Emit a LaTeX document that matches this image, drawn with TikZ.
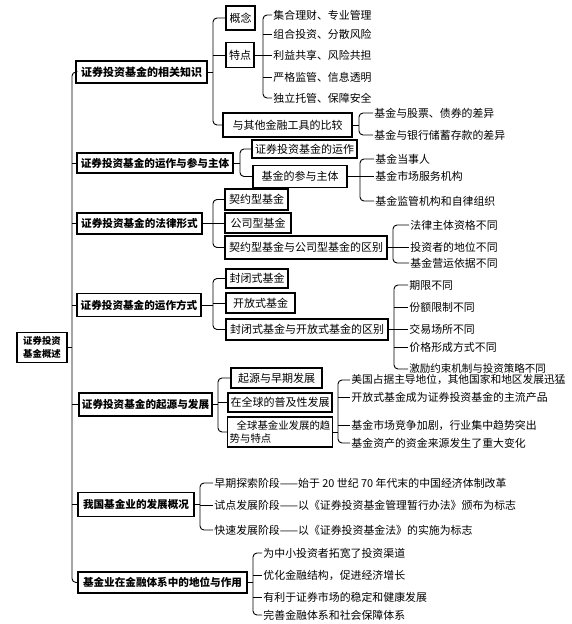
\documentclass[tikz,border=0pt]{standalone}
\usepackage{fontspec}
\setmainfont{Noto Sans CJK SC}
\usetikzlibrary{calc}
\begin{document}
\begin{tikzpicture}[x=1pt,y=-1pt,
  line width=0.9pt,
  bx/.style 2 args={draw, line width=1.1pt, inner sep=0pt, minimum width=#1, minimum height=#2, font=\fontsize{11}{13}\selectfont},
  mainbx/.style 2 args={bx={#1}{#2}, font=\bfseries\fontsize{10.6}{13}\selectfont},
  leaf/.style={anchor=west, inner xsep=1pt, inner ysep=0pt, font=\fontsize{10.9}{13}\selectfont},
  br/.style={rounded corners=4pt}
]
\useasboundingbox (0,0) rectangle (571,624);

% root
\node[bx={50pt}{30pt}, font=\bfseries\fontsize{9.4}{13.5}\selectfont, align=center] (root) at (42,347.5) {证券投资\\基金概述};

% level 1
\node[mainbx={131pt}{22pt}, font=\bfseries\fontsize{11}{13}\selectfont] (a1) at (141.5,72) {证券投资基金的相关知识};
\node[mainbx={156pt}{20pt}] (a2) at (155,163) {证券投资基金的运作与参与主体};
\node[mainbx={125pt}{21pt}] (a3) at (139.5,223.5) {证券投资基金的法律形式};
\node[mainbx={124pt}{23pt}] (a4) at (139,305) {证券投资基金的运作方式};
\node[mainbx={133pt}{23pt}] (a5) at (145.5,404.5) {证券投资基金的起源与发展};
\node[mainbx={116pt}{24pt}] (a6) at (136,504.5) {我国基金业的发展概况};
\node[mainbx={169pt}{21pt}] (a7) at (162.5,582.5) {基金业在金融体系中的地位与作用};

% level 2 boxes
\node[bx={29pt}{24pt}] (b1) at (240.5,18) {概念};
\node[bx={28pt}{25pt}] (b2) at (240,55) {特点};
\node[bx={129pt}{24pt}] (b3) at (287.5,125) {与其他金融工具的比较};
\node[bx={105pt}{18pt}] (c1) at (304.5,149) {证券投资基金的运作};
\node[bx={94pt}{22pt}] (c2) at (300,176.5) {基金的参与主体};
\node[bx={63pt}{21pt}] (d1) at (256.5,199.5) {契约型基金};
\node[bx={66pt}{20pt}] (d2) at (258,223) {公司型基金};
\node[bx={162pt}{23pt}] (d3) at (306,247.5) {契约型基金与公司型基金的区别};
\node[bx={62pt}{19pt}] (e1) at (257,278.5) {封闭式基金};
\node[bx={69pt}{20pt}] (e2) at (260.5,303) {开放式基金};
\node[bx={162pt}{21pt}] (e3) at (307,329.5) {封闭式基金与开放式基金的区别};
\node[bx={91pt}{20pt}] (f1) at (276.5,378) {起源与早期发展};
\node[bx={104pt}{19pt}] (f2) at (280,402.5) {在全球的普及性发展};
\node[bx={104pt}{30pt}, align=left, inner xsep=2pt, font=\fontsize{10.4}{12.5}\selectfont] (f3) at (280,432) {\hspace{7pt}全球基金业发展的趋\\势与特点};

% leaves
\node[leaf] (g1) at (272,15) {集合理财、专业管理};
\node[leaf] (g2) at (272,34) {组合投资、分散风险};
\node[leaf] (g3) at (272,55) {利益共享、风险共担};
\node[leaf] (g4) at (272,77) {严格监管、信息透明};
\node[leaf] (g5) at (272,98) {独立托管、保障安全};

\node[leaf] (h1) at (373,113) {基金与股票、债券的差异};
\node[leaf] (h2) at (373,135) {基金与银行储蓄存款的差异};

\node[leaf] (i1) at (374,159) {基金当事人};
\node[leaf] (i2) at (374,176.5) {基金市场服务机构};
\node[leaf] (i3) at (374,201) {基金监管机构和自律组织};

\node[leaf] (j1) at (409,225) {法律主体资格不同};
\node[leaf] (j2) at (409,247.5) {投资者的地位不同};
\node[leaf] (j3) at (409,263) {基金营运依据不同};

\node[leaf] (l1) at (408,285) {期限不同};
\node[leaf] (l2) at (408,307) {份额限制不同};
\node[leaf] (l3) at (408,329.5) {交易场所不同};
\node[leaf] (l4) at (408,347) {价格形成方式不同};
\node[leaf, font=\fontsize{10.5}{13}\selectfont] (l5) at (408,369) {激励约束机制与投资策略不同};

\node[leaf, font=\fontsize{10.7}{13}\selectfont] (m1) at (350,380) {美国占据主导地位，其他国家和地区发展迅猛};
\node[leaf] (m2) at (350,397) {开放式基金成为证券投资基金的主流产品};
\node[leaf] (m3) at (350,425) {基金市场竞争加剧，行业集中趋势突出};
\node[leaf] (m4) at (350,443) {基金资产的资金来源发生了重大变化};

\node[leaf] (n1) at (213,483) {早期探索阶段——始于 20 世纪 70 年代末的中国经济体制改革};
\node[leaf] (n2) at (213,505) {试点发展阶段——以《证券投资基金管理暂行办法》颁布为标志};
\node[leaf] (n3) at (213,530) {快速发展阶段——以《证券投资基金法》的实施为标志};

\node[leaf] (o1) at (262,553) {为中小投资者拓宽了投资渠道};
\node[leaf] (o2) at (262,575) {优化金融结构，促进经济增长};
\node[leaf] (o3) at (262,597) {有利于证券市场的稳定和健康发展};
\node[leaf] (o4) at (262,615) {完善金融体系和社会保障体系};

% bracket x positions
\coordinate (t) at (72,0);
\coordinate (k1) at (213,0);
\coordinate (k2) at (240,0);
\coordinate (k3) at (213,0);
\coordinate (k4) at (213,0);
\coordinate (k5) at (218,0);
\coordinate (kA) at (263,0);
\coordinate (kB) at (359,0);
\coordinate (kC) at (360,0);
\coordinate (kD) at (393,0);
\coordinate (kE) at (394,0);
\coordinate (kF) at (338,0);
\coordinate (kG) at (200,0);
\coordinate (kH) at (253,0);

% trunk
\draw (root.east) -- (root.east -| t);
\draw[br] (a1.west) -| (t |- a7.west) -- (a7.west);
\foreach \n in {a2,a3,a4,a5,a6} \draw (t |- \n.west) -- (\n.west);

% a1
\draw (a1.east) -- (a1.east -| k1);
\draw[br] (b1.west) -| (k1 |- b3.west) -- (b3.west);
\draw (k1 |- b2.west) -- (b2.west);
% a2
\draw (a2.east) -- (a2.east -| k2);
\draw[br] (c1.west) -| (k2 |- c2.west) -- (c2.west);
% a3
\draw (a3.east) -- (a3.east -| k3);
\draw[br] (d1.west) -| (k3 |- d3.west) -- (d3.west);
\draw (k3 |- d2.west) -- (d2.west);
% a4
\draw (a4.east) -- (a4.east -| k4);
\draw[br] (e1.west) -| (k4 |- e3.west) -- (e3.west);
\draw (k4 |- e2.west) -- (e2.west);
% a5
\draw (a5.east) -- (a5.east -| k5);
\draw[br] (f1.west) -| (k5 |- f3.west) -- (f3.west);
\draw (k5 |- f2.west) -- (f2.west);
% 特点
\draw (b2.east) -- (b2.east -| kA);
\draw[br] (g1.west) -| (kA |- g5.west) -- (g5.west);
\foreach \n in {g2,g3,g4} \draw (kA |- \n.west) -- (\n.west);
% 比较
\draw (b3.east) -- (b3.east -| kB);
\draw[br] (h1.west) -| (kB |- h2.west) -- (h2.west);
% 参与主体
\draw (c2.east) -- (c2.east -| kC);
\draw[br] (i1.west) -| (kC |- i3.west) -- (i3.west);
\draw (kC |- i2.west) -- (i2.west);
% 契约/公司 区别
\draw (d3.east) -- (d3.east -| kD);
\draw[br] (j1.west) -| (kD |- j3.west) -- (j3.west);
\draw (kD |- j2.west) -- (j2.west);
% 封闭/开放 区别
\draw (e3.east) -- (e3.east -| kE);
\draw[br] (l1.west) -| (kE |- l5.west) -- (l5.west);
\foreach \n in {l2,l3,l4} \draw (kE |- \n.west) -- (\n.west);
% 趋势与特点
\draw (f3.east) -- (f3.east -| kF);
\draw[br] (m1.west) -| (kF |- m4.west) -- (m4.west);
\foreach \n in {m2,m3} \draw (kF |- \n.west) -- (\n.west);
% 我国
\draw (a6.east) -- (a6.east -| kG);
\draw[br] (n1.west) -| (kG |- n3.west) -- (n3.west);
\draw (kG |- n2.west) -- (n2.west);
% 地位与作用
\draw (a7.east) -- (a7.east -| kH);
\draw[br] (o1.west) -| (kH |- o4.west) -- (o4.west);
\foreach \n in {o2,o3} \draw (kH |- \n.west) -- (\n.west);
\end{tikzpicture}
\end{document}
